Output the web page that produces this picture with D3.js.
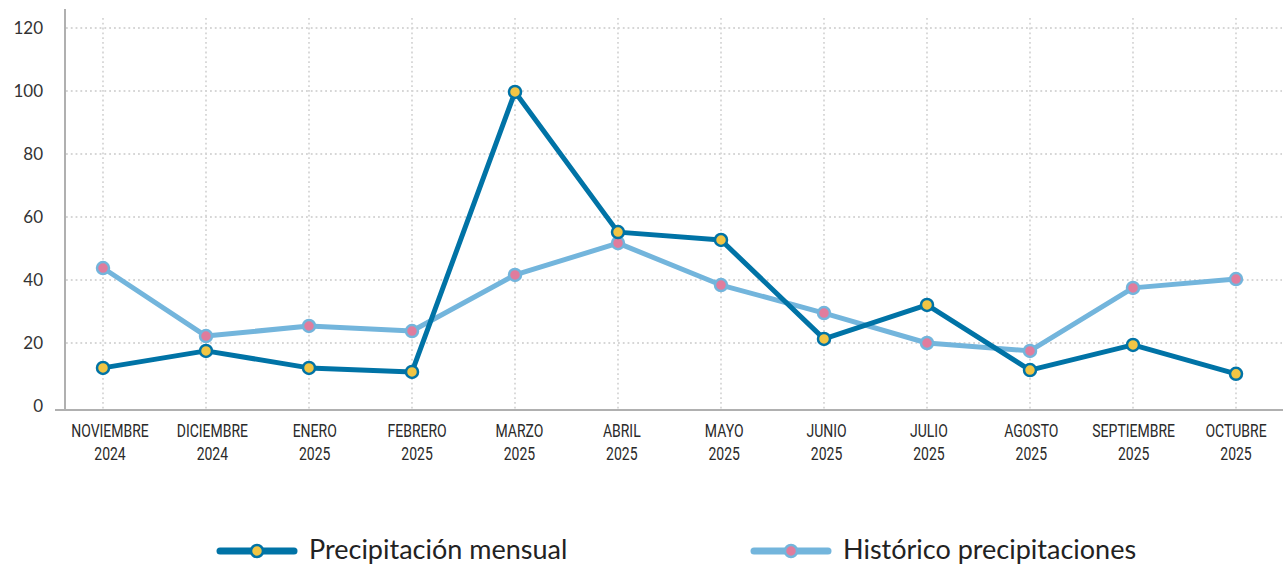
<!DOCTYPE html>
<html>
<head>
<meta charset="utf-8">
<script src="https://cdn.jsdelivr.net/npm/d3@7"></script>
<style>
  body { margin: 0; background: #fff; }
  svg { display: block; }
</style>
</head>
<body>
<div id="chart"></div>
<script>
// data
var meses = ["NOVIEMBRE", "DICIEMBRE", "ENERO", "FEBRERO", "MARZO", "ABRIL", "MAYO", "JUNIO", "JULIO", "AGOSTO", "SEPTIEMBRE", "OCTUBRE"];
var anios = ["2024", "2024", "2025", "2025", "2025", "2025", "2025", "2025", "2025", "2025", "2025", "2025"];
var mensual = [12.1, 17.5, 12.1, 10.8, 99.7, 55.2, 52.7, 21.3, 32.1, 11.4, 19.4, 10.2];
var historico = [43.8, 22.2, 25.4, 23.8, 41.6, 51.7, 38.4, 29.5, 20.0, 17.5, 37.5, 40.3];
var yTicks = [0, 20, 40, 60, 80, 100, 120];

var W = 1284, H = 565;
var svg = d3.select("#chart").append("svg")
    .attr("width", W)
    .attr("height", H);

var x = d3.scalePoint()
    .domain(meses)
    .range([103, 1236]);

// the labels sit a touch to the right of the points on the left side
var xLabel = d3.scalePoint()
    .domain(meses)
    .range([110, 1236]);

var y = d3.scaleLinear()
    .domain([0, 120])
    .range([406, 28]);

// grid
svg.append("g")
    .selectAll("line")
    .data(yTicks.filter(function (d) { return d > 0; }))
    .enter().append("line")
    .attr("x1", 66).attr("x2", 1282)
    .attr("y1", function (d) { return y(d); })
    .attr("y2", function (d) { return y(d); })
    .attr("stroke", "#d6d6d6")
    .attr("stroke-width", 1.8)
    .attr("stroke-dasharray", "1.8,3");

svg.append("g")
    .selectAll("line")
    .data(meses)
    .enter().append("line")
    .attr("x1", function (d) { return x(d); })
    .attr("x2", function (d) { return x(d); })
    .attr("y1", 18).attr("y2", 409)
    .attr("stroke", "#d6d6d6")
    .attr("stroke-width", 1.8)
    .attr("stroke-dasharray", "1.8,3");

// y axis
var yAxis = svg.append("g")
    .attr("transform", "translate(65,0)")
    .call(d3.axisLeft(y).tickValues(yTicks).tickSize(0).tickPadding(22));
yAxis.select(".domain").remove();
yAxis.selectAll("text")
    .attr("font-family", "Lato, 'Open Sans', sans-serif")
    .attr("font-size", 17)
    .attr("fill", "#333");

svg.append("line")
    .attr("x1", 65).attr("x2", 65)
    .attr("y1", 9).attr("y2", 410)
    .attr("stroke", "#b0b0b0")
    .attr("stroke-width", 2);

// x axis
svg.append("line")
    .attr("x1", 55).attr("x2", 1283)
    .attr("y1", 410).attr("y2", 410)
    .attr("stroke", "#b0b0b0")
    .attr("stroke-width", 2);

// condensed look: squeeze Roboto horizontally
var xLab = svg.append("g")
    .selectAll("text")
    .data(meses)
    .enter().append("text")
    .attr("transform", function (d) { return "translate(" + xLabel(d) + ",0) scale(0.8,1)"; })
    .attr("text-anchor", "middle")
    .attr("font-family", "Roboto, sans-serif")
    .attr("font-size", 17.5)
    .attr("fill", "#2a2a2a");
xLab.append("tspan")
    .attr("x", 0)
    .attr("y", 437)
    .text(function (d) { return d; });
xLab.append("tspan")
    .attr("x", 0)
    .attr("y", 460)
    .text(function (d, i) { return anios[i]; });

// series
var series = [
    { name: "Precipitación mensual", values: mensual, line: "#0073a6", dot: "#f1c544", dotStroke: "#0073a6" },
    { name: "Histórico precipitaciones", values: historico, line: "#73b5dc", dot: "#e07c9d", dotStroke: "#73b5dc" }
];

var line = d3.line()
    .x(function (d, i) { return x(meses[i]); })
    .y(function (d) { return y(d); });

// draw historic first, monthly on top
[series[1], series[0]].forEach(function (s) {
    svg.append("path")
        .datum(s.values)
        .attr("d", line)
        .attr("fill", "none")
        .attr("stroke", s.line)
        .attr("stroke-width", 5)
        .attr("stroke-linejoin", "round");
});
[series[1], series[0]].forEach(function (s) {
    svg.append("g")
        .selectAll("circle")
        .data(s.values)
        .enter().append("circle")
        .attr("cx", function (d, i) { return x(meses[i]); })
        .attr("cy", function (d) { return y(d); })
        .attr("r", 6)
        .attr("fill", s.dot)
        .attr("stroke", s.dotStroke)
        .attr("stroke-width", 2.5);
});

// legend
var legX = [220, 754];
var leg = svg.append("g")
    .selectAll("g")
    .data(series)
    .enter().append("g")
    .attr("transform", function (d, i) { return "translate(" + legX[i] + ",551)"; });
leg.append("line")
    .attr("x1", 0).attr("x2", 74)
    .attr("stroke", function (d) { return d.line; })
    .attr("stroke-width", 7)
    .attr("stroke-linecap", "round");
leg.append("circle")
    .attr("cx", 37)
    .attr("r", 6)
    .attr("fill", function (d) { return d.dot; })
    .attr("stroke", function (d) { return d.dotStroke; })
    .attr("stroke-width", 2.5);
leg.append("text")
    .attr("x", 89)
    .attr("y", 8)
    .attr("font-family", "Lato, 'Open Sans', sans-serif")
    .attr("font-size", 27)
    .attr("fill", "#222")
    .text(function (d) { return d.name; });
</script>
</body>
</html>
